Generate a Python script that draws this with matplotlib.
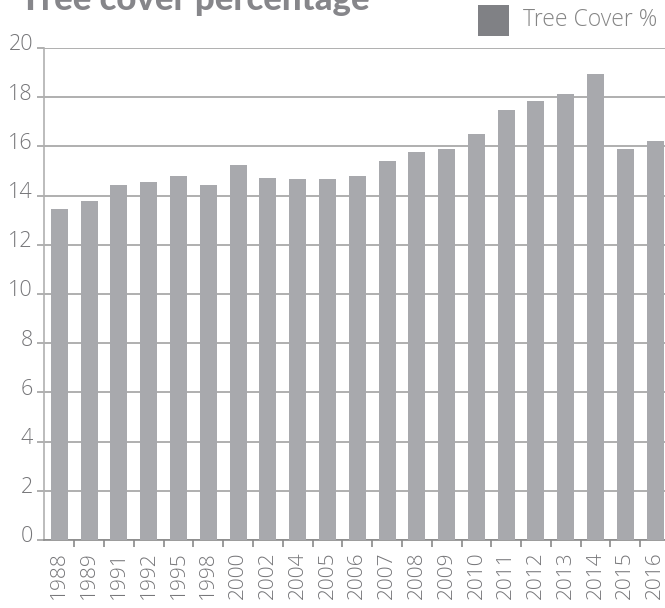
import numpy as np
import matplotlib
matplotlib.use("Agg")
import matplotlib.pyplot as plt
import matplotlib.transforms as mtransforms
from matplotlib.patches import Rectangle

years = ["1988", "1989", "1991", "1992", "1995", "1998", "2000", "2002", "2004", "2005", "2006",
         "2007", "2008", "2009", "2010", "2011", "2012", "2013", "2014", "2015", "2016"]
tree_cover = [13.46, 13.78, 14.43, 14.55, 14.8, 14.43, 15.24, 14.72, 14.67, 14.67, 14.8,
              15.4, 15.77, 15.9, 16.5, 17.48, 17.85, 18.13, 18.94, 15.9, 16.2]
y_ticks = [0, 2, 4, 6, 8, 10, 12, 14, 16, 18, 20]

bar_color = "#a8a9ad"
grid_color = "#a2a2a2"
text_color = "#767679"

plt.rcParams['font.family'] = ['Open Sans', 'DejaVu Sans']

fig = plt.figure(figsize=(6.65, 6.08), dpi=100)
ax = fig.add_axes([44/665, 68/608, 1 - 44/665, 492/608])

x = np.arange(len(years))
ax.bar(x, tree_cover, width=0.57, color=bar_color, zorder=3)

ax.set_xlim(-0.513, 20.33)
ax.set_ylim(0, 20)
ax.set_yticks(y_ticks)
ax.set_yticklabels([str(v) for v in y_ticks], fontsize=15.5, fontweight=300, color=text_color)
ax.yaxis.grid(True, color=grid_color, linewidth=1.2, zorder=0)
ax.tick_params(axis='y', length=5, width=1.2, color=grid_color, pad=3)
offset = mtransforms.ScaledTranslation(0, 4/72, fig.dpi_scale_trans)
for lab in ax.get_yticklabels():
    lab.set_transform(lab.get_transform() + offset)

ax.set_xticks(x)
ax.set_xticklabels(years, rotation=90, fontsize=15, fontweight=300, color=text_color, va='top')
ax.set_xticks(x[:-1] + 0.5, minor=True)
ax.tick_params(axis='x', which='major', length=0, pad=8)
ax.tick_params(axis='x', which='minor', length=5, width=1.2, color="#8a8a8a")

for s in ['top', 'right']:
    ax.spines[s].set_visible(False)
ax.spines['left'].set_color("#b0b0b0")
ax.spines['left'].set_linewidth(1.2)
ax.spines['bottom'].set_color("#8a8a8a")
ax.spines['bottom'].set_linewidth(1.2)
ax.set_axisbelow(True)

# title, partly cut off at the top like the original
fig.text(20/665, 1 - 10/608, "Tree cover percentage", fontsize=25, fontweight='black',
         family=['Lato', 'DejaVu Sans'], color="#86868a", va='baseline', ha='left')

# legend
fig.patches.append(Rectangle((478/665, 1 - 36/608), 31/665, 31/608, transform=fig.transFigure,
                             facecolor="#808185", edgecolor='none'))
fig.text(523/665, 1 - 26/608, "Tree Cover %", fontsize=16.5, fontweight=300,
         color="#858585", va='baseline', ha='left')

fig.savefig("out.png", dpi=100)
